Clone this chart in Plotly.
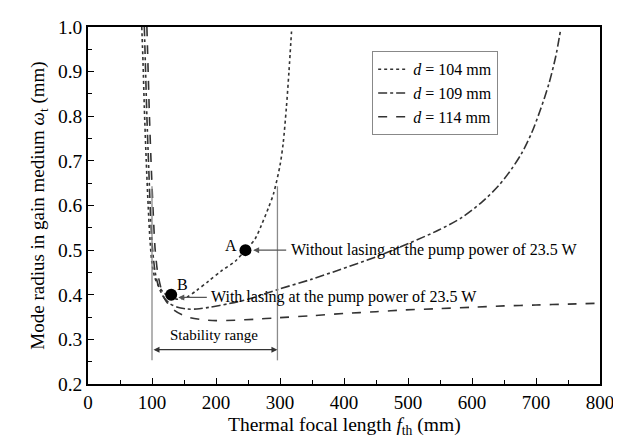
import plotly.graph_objects as go

# d = 104 mm (dotted)
x104 = [84, 86, 88, 91, 94, 97, 100, 104, 110, 118, 128, 140, 155, 170, 188, 208, 230, 246, 261, 271, 282, 290, 300, 305, 310, 314, 318]
y104 = [1.0, 0.92, 0.82, 0.70, 0.60, 0.52, 0.47, 0.44, 0.42, 0.405, 0.395, 0.39, 0.395, 0.41, 0.43, 0.453, 0.475, 0.50, 0.525, 0.556, 0.595, 0.627, 0.69, 0.74, 0.82, 0.90, 0.99]
# d = 109 mm (dash-dot)
x109 = [88, 90, 92, 95, 98, 101, 105, 110, 118, 128, 140, 155, 170, 190, 220, 250, 297, 350, 391, 450, 501, 548, 584, 615, 642, 662, 678, 693, 707, 720, 731, 738]
y109 = [1.0, 0.90, 0.80, 0.68, 0.57, 0.50, 0.45, 0.42, 0.395, 0.38, 0.372, 0.368, 0.368, 0.372, 0.38, 0.39, 0.412, 0.435, 0.455, 0.485, 0.515, 0.545, 0.573, 0.607, 0.645, 0.682, 0.718, 0.762, 0.815, 0.872, 0.935, 0.99]
# d = 114 mm (dashed)
x114 = [92, 94, 96, 99, 102, 105, 110, 120, 135, 156, 180, 200, 230, 260, 292, 350, 400, 450, 496, 550, 600, 650, 700, 750, 800]
y114 = [1.0, 0.90, 0.80, 0.68, 0.58, 0.50, 0.44, 0.39, 0.365, 0.35, 0.344, 0.342, 0.343, 0.345, 0.348, 0.353, 0.358, 0.362, 0.366, 0.369, 0.372, 0.375, 0.377, 0.379, 0.381]

points_x = [246, 130]
points_y = [0.50, 0.40]
point_labels = ["A", "B"]
stability_bounds = [100, 296]

FONT = "Liberation Serif, Times New Roman, serif"
LC = "#333333"

fig = go.Figure()
fig.add_trace(go.Scatter(x=x104, y=y104, mode="lines", name="<i>d</i> = 104 mm",
                         line=dict(color=LC, width=1.6, dash="dot", shape="spline", smoothing=0.8)))
fig.add_trace(go.Scatter(x=x109, y=y109, mode="lines", name="<i>d</i> = 109 mm",
                         line=dict(color=LC, width=1.6, dash="dashdot", shape="spline", smoothing=0.8)))
fig.add_trace(go.Scatter(x=x114, y=y114, mode="lines", name="<i>d</i> = 114 mm",
                         line=dict(color=LC, width=1.6, dash="dash", shape="spline", smoothing=0.8)))
fig.add_trace(go.Scatter(x=points_x, y=points_y, mode="markers", showlegend=False,
                         marker=dict(color="black", size=12)))

# stability range vertical lines
for xb in stability_bounds:
    fig.add_shape(type="line", x0=xb, x1=xb, y0=0.253, y1=0.643, xref="x", yref="y",
                  line=dict(color="#8a8a8a", width=1.3))

# double arrow for stability range
fig.add_annotation(x=stability_bounds[1], y=0.277, ax=stability_bounds[0], ay=0.277,
                   xref="x", yref="y", axref="x", ayref="y", text="", showarrow=True,
                   arrowhead=2, arrowside="end+start", arrowsize=1, arrowwidth=1.2,
                   arrowcolor="#333", standoff=0, startstandoff=0)
fig.add_annotation(x=197, y=0.31, xref="x", yref="y", text="Stability range",
                   showarrow=False, font=dict(family=FONT, size=15, color="black"))

# A arrow and text
fig.add_annotation(x=258, y=0.50, ax=312, ay=0.50, xref="x", yref="y", axref="x", ayref="y",
                   text="", showarrow=True, arrowhead=2, arrowsize=1, arrowwidth=1.2,
                   arrowcolor="#555", standoff=0)
fig.add_annotation(x=314, y=0.50, xref="x", yref="y", xanchor="left",
                   text="Without lasing at the pump power of 23.5 W", showarrow=False,
                   font=dict(family=FONT, size=16, color="black"))
# B arrow and text
fig.add_annotation(x=141, y=0.394, ax=188, ay=0.394, xref="x", yref="y", axref="x", ayref="y",
                   text="", showarrow=True, arrowhead=2, arrowsize=1, arrowwidth=1.2,
                   arrowcolor="#555", standoff=0)
fig.add_annotation(x=189, y=0.394, xref="x", yref="y", xanchor="left",
                   text="With lasing at the pump power of 23.5 W", showarrow=False,
                   font=dict(family=FONT, size=16, color="black"))
# point labels
fig.add_annotation(x=224, y=0.51, xref="x", yref="y", text=point_labels[0], showarrow=False,
                   font=dict(family=FONT, size=16, color="black"))
fig.add_annotation(x=147, y=0.423, xref="x", yref="y", text=point_labels[1], showarrow=False,
                   font=dict(family=FONT, size=16, color="black"))

# x-axis title as annotation (keeps the subscript inside the page)
fig.add_annotation(x=0.5, y=-0.118, xref="paper", yref="paper", xanchor="center", yanchor="middle",
                   text="Thermal focal length <i>f</i><sub>th</sub> (mm)", showarrow=False,
                   font=dict(family=FONT, size=19.5, color="black"))

fig.update_layout(
    width=621, height=437,
    margin=dict(l=80, r=29, t=9, b=61),
    paper_bgcolor="white", plot_bgcolor="white",
    font=dict(family=FONT, size=19, color="black"),
    legend=dict(x=0.555, y=0.932, xanchor="left", yanchor="top",
                bgcolor="white", bordercolor="#888", borderwidth=1,
                font=dict(family=FONT, size=16), itemwidth=30, tracegroupgap=0),
    showlegend=True,
)
fig.update_xaxes(range=[0, 800], tickvals=[0, 100, 200, 300, 400, 500, 600, 700, 800],
                 ticks="inside", ticklen=6, tickcolor="black", showgrid=False, zeroline=False,
                 showline=True, linecolor="black", linewidth=1.5, mirror=True,
                 minor=dict(dtick=50, ticks="inside", ticklen=4, tickcolor="black", showgrid=False),
                 tickfont=dict(size=19))
fig.update_yaxes(range=[0.2, 1.0], tickvals=[0.2, 0.3, 0.4, 0.5, 0.6, 0.7, 0.8, 0.9, 1.0],
                 ticktext=["0.2", "0.3", "0.4", "0.5", "0.6", "0.7", "0.8", "0.9", "1.0"],
                 ticks="inside", ticklen=6, tickcolor="black", showgrid=False, zeroline=False,
                 showline=True, linecolor="black", linewidth=1.5, mirror=True,
                 minor=dict(dtick=0.05, ticks="inside", ticklen=4, tickcolor="black", showgrid=False),
                 title=dict(text="Mode radius in gain medium <i>ω</i><sub>t</sub> (mm)", standoff=8,
                            font=dict(size=19)),
                 tickfont=dict(size=19.5))

fig.write_html("out.html")
